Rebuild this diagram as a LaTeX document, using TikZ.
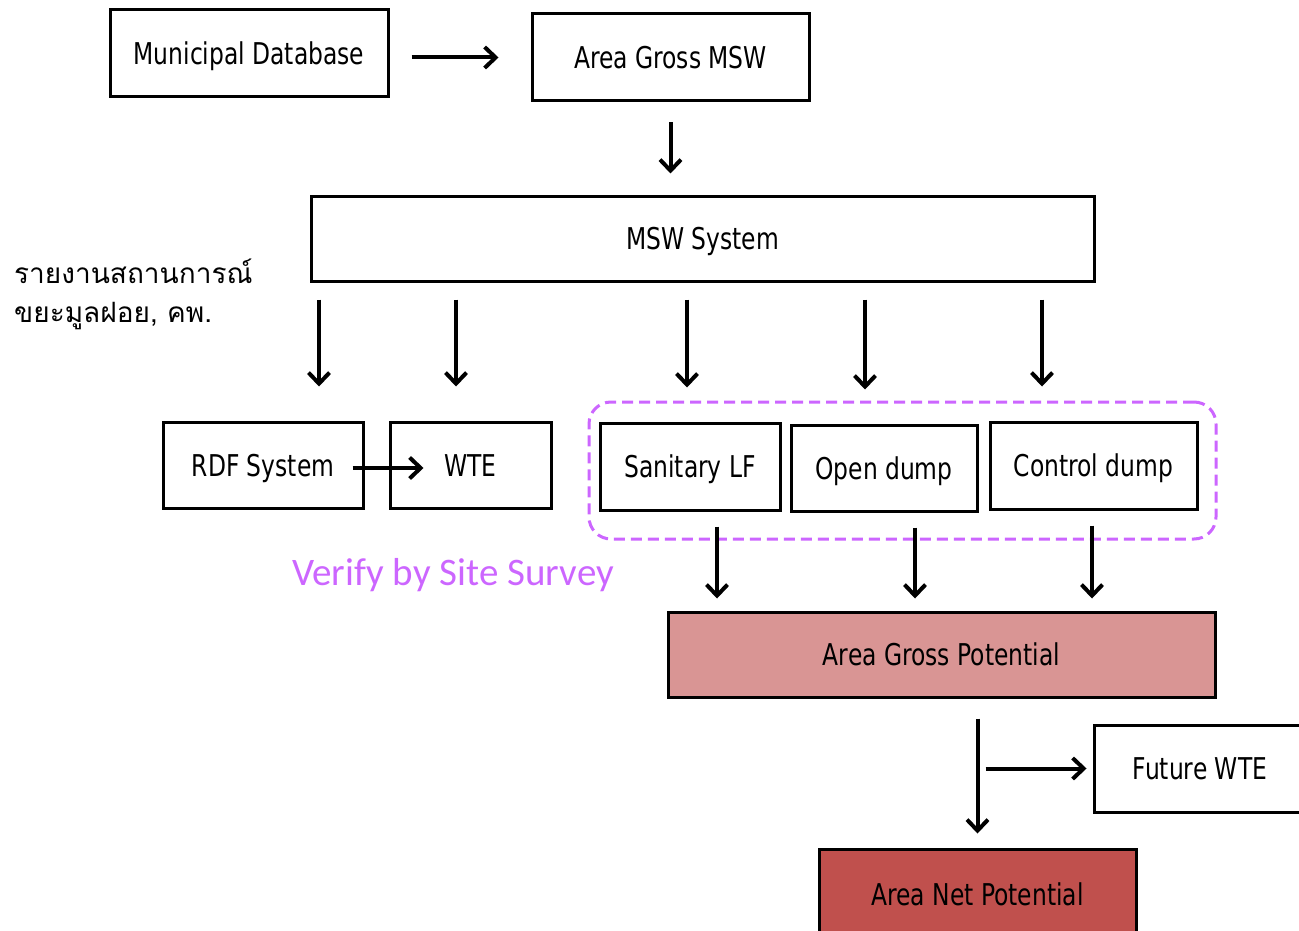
\documentclass[tikz,border=0pt]{standalone}
\usepackage{fontspec}
\setmainfont{DejaVu Sans}[FakeStretch=0.78]
\newfontfamily\thaifont[Script=Thai]{Loma}
\newfontfamily\surveyfont{Carlito}
\usetikzlibrary{arrows.meta,positioning,calc}
\definecolor{violet}{HTML}{CC66FF}
\definecolor{rosefill}{HTML}{D99594}
\definecolor{brickfill}{HTML}{C0504D}
\tikzset{box/.style={draw=black,line width=3pt,fill=white,inner sep=0pt,align=center,text height=22pt,text depth=0pt,font=\fontsize{30}{34}\selectfont},arr/.style={-{Straight Barb[length=11pt,width=21pt]},line width=4pt},grp/.style={draw=violet,line width=3pt,dash pattern=on 11pt off 6pt,rounded corners=22pt,inner sep=0pt}}

\begin{document}
\begin{tikzpicture}[x=1pt,y=-1pt]
\useasboundingbox (0,0) rectangle (1299,931);
\node[grp,minimum width=627,minimum height=137] (site) at (902.5,470.5) {};
\node[box,minimum width=278,minimum height=87] (mdb) at (249,53.5) {Municipal Database};
\node[box,minimum width=277,minimum height=87] (agmsw) at (670.5,57.5) {Area Gross MSW};
\node[box,minimum width=783,minimum height=85] (msw) at (702.5,238.5) {MSW System};
\node[box,minimum width=200,minimum height=86] (rdf) at (263,465) {RDF System};
\node[box,minimum width=161,minimum height=86] (wte) at (470.5,465) {WTE};
\node[box,minimum width=180,minimum height=87] (slf) at (690,466.5) {Sanitary LF};
\node[box,minimum width=186,minimum height=86] (odump) at (884,468) {Open dump};
\node[box,minimum width=207,minimum height=87] (cdump) at (1093.5,465.5) {Control dump};
\node[box,fill=rosefill,minimum width=547,minimum height=85] (agp) at (941.5,654.5) {Area Gross Potential};
\node[box,minimum width=212,minimum height=87] (fwte) at (1200,768.5) {Future WTE};
\node[box,fill=brickfill,minimum width=317,minimum height=90] (anp) at (977.5,894) {Area Net Potential};
\node[anchor=base west,align=left,inner sep=0pt,font=\thaifont\fontsize{28}{39}\selectfont] (pcd) at (14,322) {รายงานสถานการณ์\\ขยะมูลฝอย, คพ.};
\node[text=violet,inner sep=0pt,font=\surveyfont\fontsize{39}{40}\selectfont] (verify) at (453,575) {Verify by Site Survey};
% arrows
\draw[arr,shorten <=22pt,shorten >=32pt] (mdb.east |- agmsw.west) -- (agmsw.west);
\draw[arr,shorten <=20pt,shorten >=21pt] (agmsw.south) -- (agmsw.south |- msw.north);
\foreach \x/\n in {319/rdf,456/wte,687/slf,865/odump,1042/cdump}
  \draw[arr,shorten <=17pt,shorten >=34pt] (msw.south -| \x,0) -- (\n.north -| \x,0);
\draw[arr,shorten <=-12pt,shorten >=-35pt] (rdf.east |- 0,468) -- (wte.west |- 0,468);
\foreach \x/\n in {717/slf,915/odump,1092/cdump}
  \draw[arr,shorten <=15pt,shorten >=12pt] (\n.south -| \x,0) -- (agp.north -| \x,0);
\draw[arr,shorten <=20pt,shorten >=14pt] (agp.south -| anp.north) -- (anp.north);
\draw[arr,shorten <=8pt,shorten >=6pt] (anp.north |- fwte.west) -- (fwte.west);
\end{tikzpicture}
\end{document}
